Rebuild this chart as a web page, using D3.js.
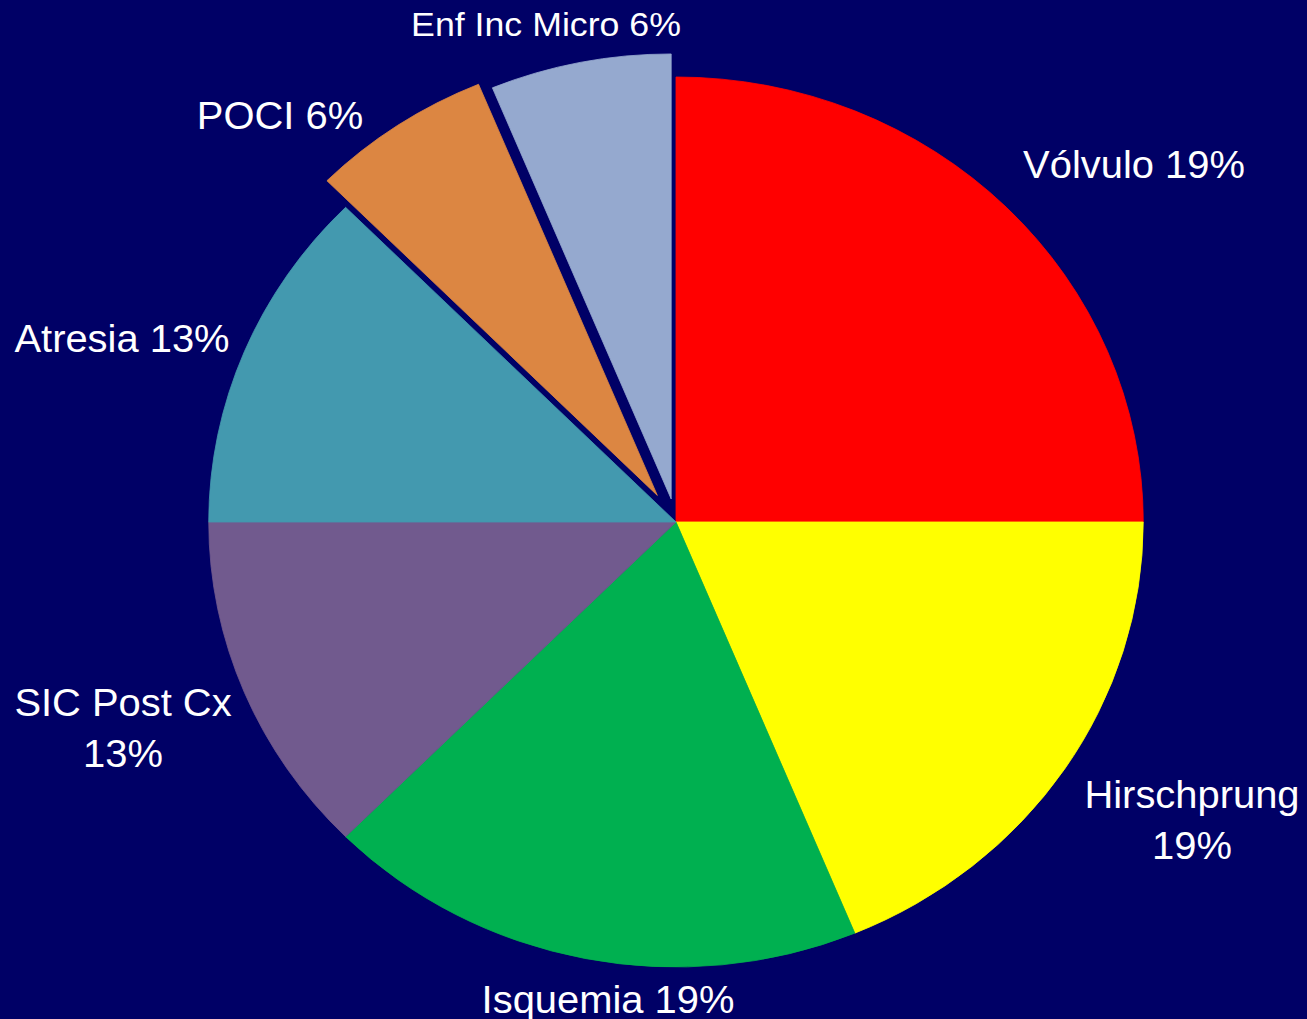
<!DOCTYPE html>
<html>
<head>
<meta charset="utf-8">
<script src="https://cdn.jsdelivr.net/npm/d3@7"></script>
<style>
	html, body { margin: 0; padding: 0; background: #000066; overflow: hidden; }
</style>
</head>
<body>
<div id="chart"></div>
<script>
// data
const categories = ["Vólvulo", "Hirschprung", "Isquemia", "SIC Post Cx", "Atresia", "POCI", "Enf Inc Micro"];
const values = [4, 3, 3, 2, 2, 1, 1];
const pctLabels = ["19%", "19%", "19%", "13%", "13%", "6%", "6%"];

// styles
const colors = ["#FF0000", "#FFFF00", "#00B050", "#715A8E", "#4399AF", "#DC8642", "#95A9CF"];
const explode = [0, 0, 0, 0, 0, 32, 23.5];
const wrapLabel = [false, true, false, true, false, false, false];
const labelSize = [38, 38, 38, 38, 38, 38, 34];

// label anchors, relative to pie centre (px)
const labelPos = [
	[458, -344], [516, 286], [-68, 491], [-553, 194],
	[-554, -170], [-396, -393], [-130, -486]
];

const width = 1307, height = 1019;
const cx = 676, cy = 522;
const radius = 445;
const stretch = 1.05; // the picture is a bit wider than tall
const lineStep = 51;

const svg = d3.select("#chart").append("svg")
	.attr("width", width)
	.attr("height", height);

svg.append("rect")
	.attr("width", width)
	.attr("height", height)
	.style("fill", "#000066");

const g = svg.append("g")
	.attr("transform", "translate(" + cx + "," + cy + ") scale(" + stretch + ",1)");

const pie = d3.pie().sort(null).value(d => d);
const arc = d3.arc().innerRadius(0).outerRadius(radius);
const arcs = pie(values);

// slices
g.selectAll("path.slice")
	.data(arcs)
	.enter().append("path")
	.attr("class", "slice")
	.attr("d", arc)
	.attr("transform", (d, i) => {
		const a = (d.startAngle + d.endAngle) / 2;
		return "translate(" + (Math.sin(a) * explode[i]) + "," + (-Math.cos(a) * explode[i]) + ")";
	})
	.style("fill", (d, i) => colors[i])
	.style("stroke", (d, i) => colors[i])
	.style("stroke-width", 0.8);

// labels
const labels = g.selectAll("text.label")
	.data(arcs)
	.enter().append("text")
	.attr("class", "label")
	.attr("text-anchor", "middle")
	.style("font-family", "'Liberation Sans', Arial, sans-serif")
	.style("font-size", (d, i) => labelSize[i] + "px")
	.style("fill", "#FFFFFF");

labels.each(function(d, i) {
	const t = d3.select(this);
	const x = labelPos[i][0] / stretch;
	const y = labelPos[i][1];
	const lines = wrapLabel[i]
		? [categories[i], pctLabels[i]]
		: [categories[i] + " " + pctLabels[i]];
	lines.forEach((s, k) => {
		t.append("tspan")
			.attr("x", x)
			.attr("y", y + k * lineStep)
			.text(s);
	});
});
</script>
</body>
</html>
